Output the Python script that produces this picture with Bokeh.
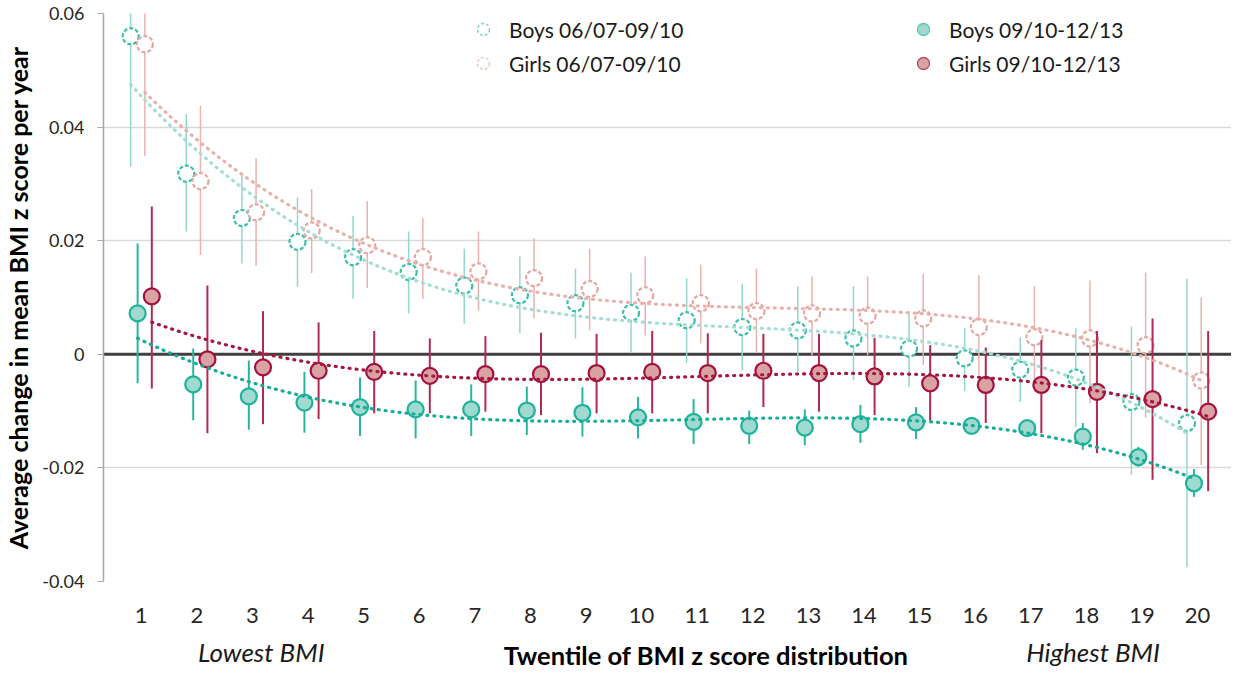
import numpy as np
from bokeh.plotting import figure
from bokeh.models import (ColumnDataSource, Range1d, FixedTicker, NumeralTickFormatter,
                          Span, Legend, LegendItem, LinearAxis)
from bokeh.transform import dodge
from bokeh.embed import file_html
from bokeh.resources import INLINE

# ---------------- data ----------------
twentile = list(range(1, 21))
tick_labels = [str(t) for t in twentile]

boys_old = [0.0560, 0.0318, 0.0240, 0.0198, 0.0171, 0.0145, 0.0121, 0.0104, 0.0090, 0.0073,
            0.0060, 0.0048, 0.0042, 0.0028, 0.0010, -0.0007, -0.0027, -0.0041, -0.0084, -0.0121]
boys_old_hi = [0.0790, 0.0423, 0.0319, 0.0276, 0.0244, 0.0216, 0.0186, 0.0172, 0.0151, 0.0144,
               0.0134, 0.0124, 0.0120, 0.0120, 0.0072, 0.0046, 0.0030, 0.0046, 0.0049, 0.0133]
boys_old_lo = [0.0330, 0.0216, 0.0160, 0.0119, 0.0098, 0.0072, 0.0054, 0.0037, 0.0028, 0.0002,
               -0.0015, -0.0028, -0.0037, -0.0046, -0.0058, -0.0065, -0.0084, -0.0128, -0.0212, -0.0375]

girls_old = [0.0546, 0.0305, 0.0250, 0.0218, 0.0192, 0.0171, 0.0146, 0.0134, 0.0115, 0.0104,
             0.0090, 0.0076, 0.0072, 0.0068, 0.0063, 0.0048, 0.0030, 0.0028, 0.0016, -0.0046]
girls_old_hi = [0.0750, 0.0437, 0.0345, 0.0291, 0.0270, 0.0240, 0.0216, 0.0204, 0.0186, 0.0172,
                0.0158, 0.0151, 0.0137, 0.0137, 0.0142, 0.0139, 0.0120, 0.0130, 0.0144, 0.0100]
girls_old_lo = [0.0349, 0.0175, 0.0156, 0.0143, 0.0117, 0.0098, 0.0077, 0.0063, 0.0042, 0.0033,
                0.0019, 0.0002, -0.0002, -0.0002, -0.0019, -0.0037, -0.0054, -0.0086, -0.0112, -0.0195]

boys_new = [0.0072, -0.0053, -0.0074, -0.0085, -0.0093, -0.0097, -0.0097, -0.0099, -0.0103, -0.0111,
            -0.0119, -0.0126, -0.0129, -0.0123, -0.0120, -0.0126, -0.0130, -0.0145, -0.0181, -0.0227]
boys_new_hi = [0.0195, 0.0010, -0.0011, -0.0031, -0.0041, -0.0046, -0.0053, -0.0057, -0.0058, -0.0075,
               -0.0079, -0.0099, -0.0097, -0.0089, -0.0093, -0.0114, -0.0118, -0.0121, -0.0163, -0.0202]
boys_new_lo = [-0.0051, -0.0116, -0.0133, -0.0138, -0.0144, -0.0148, -0.0144, -0.0142, -0.0145, -0.0148,
               -0.0158, -0.0158, -0.0160, -0.0156, -0.0149, -0.0138, -0.0142, -0.0168, -0.0198, -0.0251]

girls_new = [0.0102, -0.0009, -0.0023, -0.0029, -0.0031, -0.0038, -0.0035, -0.0035, -0.0033, -0.0031,
             -0.0033, -0.0029, -0.0033, -0.0039, -0.0051, -0.0054, -0.0054, -0.0066, -0.0079, -0.0101]
girls_new_hi = [0.0260, 0.0121, 0.0076, 0.0056, 0.0041, 0.0028, 0.0032, 0.0038, 0.0036, 0.0041,
                0.0037, 0.0036, 0.0036, 0.0029, 0.0016, 0.0012, 0.0025, 0.0041, 0.0063, 0.0041]
girls_new_lo = [-0.0060, -0.0139, -0.0123, -0.0114, -0.0104, -0.0104, -0.0101, -0.0107, -0.0104, -0.0104,
                -0.0104, -0.0093, -0.0101, -0.0107, -0.0117, -0.0121, -0.0139, -0.0174, -0.0221, -0.0241]

series_names = ["Boys 06/07-09/10", "Girls 06/07-09/10", "Boys 09/10-12/13", "Girls 09/10-12/13"]
y_ticks = [-0.04, -0.02, 0, 0.02, 0.04, 0.06]
end_labels = ["Lowest BMI", "Highest BMI"]
end_label_pos = [3.16, 18.12]
x_title = "Twentile of BMI z score distribution"
x_title_pos = 11.16
y_title = "Average change in mean BMI z score per year"

# ---------------- styles ----------------
FONT = "Lato"
styles = [
    dict(vals=boys_old, hi=boys_old_hi, lo=boys_old_lo, off=-0.19, fill="white", line="#3fbfaa",
         dash="4 2", err="#93d8cc", err_w=1.5, trend="#a3ddd3", leg_line="#6fcfbf"),
    dict(vals=girls_old, hi=girls_old_hi, lo=girls_old_lo, off=0.065, fill="white", line="#e4a7a2",
         dash="4 2", err="#e9b3ae", err_w=1.5, trend="#e8b1ab", leg_line="#ecbcb8"),
    dict(vals=boys_new, hi=boys_new_hi, lo=boys_new_lo, off=-0.065, fill="#a0d9cf", line="#1fb29b",
         dash="solid", err="#2bb5a0", err_w=2, trend="#16ad96", leg_line="#5cc7b5"),
    dict(vals=girls_new, hi=girls_new_hi, lo=girls_new_lo, off=0.19, fill="#d9a3a3", line="#a3113d",
         dash="solid", err="#b02a52", err_w=2, trend="#a5173f", leg_line="#b84a66"),
]

p = figure(width=1231, height=674, output_backend="svg", toolbar_location=None,
           x_range=Range1d(0.321, 20.61), y_range=Range1d(-0.04, 0.06),
           min_border_left=95, min_border_top=13, min_border_bottom=93, min_border_right=0)
p.outline_line_color = None
p.background_fill_color = "white"
p.border_fill_color = "white"

# grid
p.xgrid.grid_line_color = None
p.ygrid.grid_line_color = "#d9d9d9"
p.ygrid.grid_line_width = 1.5
p.ygrid.ticker = FixedTicker(ticks=y_ticks)

# y axis
p.yaxis.ticker = FixedTicker(ticks=y_ticks)
p.yaxis.formatter = NumeralTickFormatter(format="0.[00]")
p.yaxis.axis_line_color = "#a6a6a6"
p.yaxis.axis_line_width = 1.5
p.yaxis.major_tick_line_color = "#a6a6a6"
p.yaxis.major_tick_in = 0
p.yaxis.major_tick_out = 6
p.yaxis.minor_tick_line_color = None
p.yaxis.major_label_standoff = 13
p.yaxis.major_label_text_font = FONT
p.yaxis.major_label_text_font_size = "18px"
p.yaxis.major_label_text_color = "#262626"
p.yaxis.axis_label = y_title
p.yaxis.axis_label_text_font = FONT
p.yaxis.axis_label_text_font_style = "bold"
p.yaxis.axis_label_text_font_size = "25px"
p.yaxis.axis_label_text_color = "#000000"
p.yaxis.axis_label_standoff = 6

# x axis (twentile numbers)
p.xaxis.ticker = FixedTicker(ticks=twentile)
p.xaxis.major_label_overrides = {t: lab for t, lab in zip(twentile, tick_labels)}
p.xaxis.axis_line_color = None
p.xaxis.major_tick_line_color = None
p.xaxis.minor_tick_line_color = None
p.xaxis.major_tick_out = 0
p.xaxis.major_tick_in = 0
p.xaxis.major_label_standoff = 26
p.xaxis.major_label_text_font = FONT
p.xaxis.major_label_text_font_size = "22px"
p.xaxis.major_label_text_color = "#262626"

# second axis: Lowest / Highest BMI (italic)
ax2 = LinearAxis(ticker=FixedTicker(ticks=end_label_pos),
                 major_label_overrides={v: t for v, t in zip(end_label_pos, end_labels)},
                 axis_line_color=None, major_tick_line_color=None, minor_tick_line_color=None,
                 major_tick_in=0, major_tick_out=0, major_label_standoff=10,
                 major_label_text_font=FONT, major_label_text_font_style="italic",
                 major_label_text_font_size="26px", major_label_text_color="#1a1a1a")
p.add_layout(ax2, "below")
# third axis: bold title on the same line as the italic labels
ax3 = LinearAxis(ticker=FixedTicker(ticks=[x_title_pos]),
                 major_label_overrides={x_title_pos: x_title},
                 axis_line_color=None, major_tick_line_color=None, minor_tick_line_color=None,
                 major_tick_in=0, major_tick_out=0, major_label_standoff=-31,
                 major_label_text_font=FONT, major_label_text_font_style="bold",
                 major_label_text_font_size="25.5px", major_label_text_color="#000000")
p.add_layout(ax3, "below")

# zero line
p.add_layout(Span(location=0, dimension="width", line_color="#404040", line_width=3, level="underlay"))

legend_renderers = []
for st in styles:
    src = ColumnDataSource(dict(x=twentile, y=st["vals"], hi=st["hi"], lo=st["lo"]))
    xd = dodge("x", st["off"], range=p.x_range)
    p.segment(x0=xd, y0="lo", x1=xd, y1="hi", source=src, line_color=st["err"], line_width=st["err_w"])
    p.scatter(x=xd, y="y", source=src, size=16, fill_color=st["fill"], line_color=st["line"],
              line_width=2.2, line_dash=st["dash"])
    # legend swatch: a renderer with no drawable point, used only for the legend
    lr = p.scatter(x=[np.nan], y=[np.nan], size=13, fill_color=st["fill"], line_color=st["leg_line"],
                   line_width=1.3, line_dash="3 2" if st["dash"] != "solid" else "solid")
    legend_renderers.append(lr)

# polynomial (cubic) trendlines fitted to each series
for st in styles:
    coef = np.polyfit(twentile, st["vals"], 3)
    xs = np.linspace(twentile[0], twentile[-1], 200)
    ys = np.polyval(coef, xs)
    p.line(xs + st["off"], ys, line_color=st["trend"], line_width=3.2, line_dash="1 6", line_cap="round")

# legends
def make_legend(items, x, y):
    lg = Legend(items=items, location=(x, y), orientation="vertical",
                label_text_font=FONT, label_text_font_size="21px", label_text_color="#1a1a1a",
                glyph_width=30, glyph_height=30, label_height=30, label_standoff=11,
                spacing=4, padding=0, margin=0,
                border_line_color=None, background_fill_alpha=0)
    p.add_layout(lg)

make_legend([LegendItem(label=series_names[0], renderers=[legend_renderers[0]]),
             LegendItem(label=series_names[1], renderers=[legend_renderers[1]])], 365, 503)
make_legend([LegendItem(label=series_names[2], renderers=[legend_renderers[2]]),
             LegendItem(label=series_names[3], renderers=[legend_renderers[3]])], 805, 503)

open("out.html", "w").write(file_html(p, INLINE))
